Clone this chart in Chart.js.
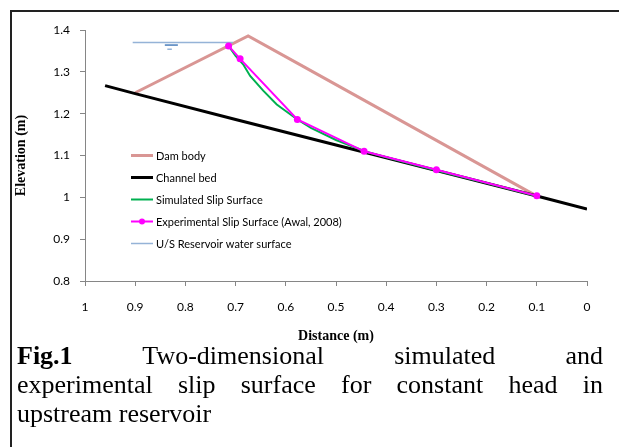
<!DOCTYPE html>
<html>
<head>
<meta charset="utf-8">
<script src="https://cdn.jsdelivr.net/npm/chart.js@4/dist/chart.umd.min.js"></script>
<style>
  html, body { margin:0; padding:0; background:#fff; }
  body { width:619px; height:447px; position:relative; overflow:hidden; }
  #frame { position:absolute; left:10px; top:10px; width:700px; height:600px; border:2px solid #222; box-sizing:border-box; }
  #c { position:absolute; left:0; top:0; }
  #cap { position:absolute; left:17px; top:341px; width:586px; font-family:'Liberation Serif','Times New Roman',serif; font-size:26px; line-height:29px; color:#000; }
  #cap .j { text-align:justify; text-align-last:justify; }
</style>
</head>
<body>
<div id="frame"></div>
<canvas id="c" width="619" height="345"></canvas>
<div id="cap">
  <div class="j"><b>Fig.1</b> Two-dimensional simulated and</div>
  <div class="j">experimental slip surface for constant head in</div>
  <div>upstream reservoir</div>
</div>
<script>
// ---- data ----
const damX = [0.9, 0.675, 0.57, 0.1];
const damY = [1.25, 1.386, 1.316, 1.003];

const bedX = [0.96, 0.9, 0.7, 0.5, 0.3, 0.1, 0];
const bedY = [1.267, 1.248, 1.186, 1.125, 1.064, 1.003, 0.972];

const simX = [0.714, 0.7, 0.685, 0.671, 0.645, 0.618, 0.577, 0.55, 0.5, 0.44, 0.4, 0.3, 0.2, 0.1];
const simY = [1.362, 1.338, 1.318, 1.29, 1.255, 1.222, 1.186, 1.166, 1.137, 1.109, 1.096, 1.064, 1.034, 1.003];

const expX = [0.714, 0.691, 0.577, 0.444, 0.3, 0.1];
const expY = [1.362, 1.331, 1.186, 1.11, 1.066, 1.004];

const waterX = [0.905, 0.705];
const waterY = [1.37, 1.37];

// water-level symbol (two short strokes under the water line)
const symAX = [0.841, 0.815];
const symAY = [1.364, 1.364];
const symBX = [0.836, 0.827];
const symBY = [1.354, 1.354];

const seriesNames = ['Dam body', 'Channel bed', 'Simulated Slip Surface', 'Experimental Slip Surface (Awal, 2008)', 'U/S Reservoir water surface'];

const xTicks = [1, 0.9, 0.8, 0.7, 0.6, 0.5, 0.4, 0.3, 0.2, 0.1, 0];
const yTicks = [0.8, 0.9, 1, 1.1, 1.2, 1.3, 1.4];

const pts = (xs, ys) => xs.map((x, i) => ({x: x, y: ys[i]}));

const datasets = [
  {label: seriesNames[0], data: pts(damX, damY), borderColor:'#D99694', borderWidth:3, pointRadius:0, order:6, inLegend:true},
  {label: seriesNames[1], data: pts(bedX, bedY), borderColor:'#000000', borderWidth:3, pointRadius:0, order:5, inLegend:true},
  {label: seriesNames[2], data: pts(simX, simY), borderColor:'#00B050', borderWidth:2, pointRadius:0, order:4, inLegend:true},
  {label: seriesNames[3], data: pts(expX, expY), borderColor:'#FF00FF', backgroundColor:'#FF00FF', borderWidth:2, pointRadius:3.5, pointBorderWidth:0, pointBackgroundColor:'#FF00FF', order:2, inLegend:true},
  {label: seriesNames[4], data: pts(waterX, waterY), borderColor:'#95B3D7', borderWidth:1.5, pointRadius:0, order:3, inLegend:true},
  {label: 'symA', data: pts(symAX, symAY), borderColor:'#4A7EBB', borderWidth:1.5, pointRadius:0, order:3, inLegend:false},
  {label: 'symB', data: pts(symBX, symBY), borderColor:'#95B3D7', borderWidth:1.5, pointRadius:0, order:3, inLegend:false}
];
datasets.forEach(d => { d.showLine = true; d.fill = false; d.tension = 0; });

const legendPlugin = {
  id: 'insideLegend',
  afterDraw(chart) {
    const ctx = chart.ctx;
    const items = chart.data.datasets.filter(d => d.inLegend);
    const x0 = 131, x1 = 153, tx = 156;
    let y = 155.5;
    ctx.save();
    ctx.font = '11px Lato, "Open Sans", sans-serif';
    ctx.textBaseline = 'middle';
    ctx.textAlign = 'left';
    items.forEach(d => {
      ctx.strokeStyle = d.borderColor;
      ctx.lineWidth = d.borderWidth;
      ctx.beginPath();
      ctx.moveTo(x0, y); ctx.lineTo(x1, y);
      ctx.stroke();
      if (d.pointRadius > 0) {
        ctx.fillStyle = d.pointBackgroundColor;
        ctx.beginPath();
        ctx.arc((x0 + x1) / 2, y, 3, 0, Math.PI * 2);
        ctx.fill();
      }
      ctx.fillStyle = '#000';
      ctx.fillText(d.label, tx, y + 0.5);
      y += 22;
    });
    ctx.restore();
  }
};

new Chart(document.getElementById('c'), {
  type: 'scatter',
  data: { datasets: datasets },
  options: {
    responsive: false,
    devicePixelRatio: 1,
    animation: false,
    layout: { padding: { left: 0, right: 32, top: 30, bottom: 0 } },
    plugins: { legend: { display: false }, tooltip: { enabled: false } },
    scales: {
      x: {
        type: 'linear', reverse: true, min: 0, max: 1,
        afterBuildTicks: s => { s.ticks = xTicks.map(v => ({value: v})); },
        afterFit: s => { s.height = 64; },
        ticks: { font: { family: 'Lato', size: 12 }, color: '#000', padding: 14, maxRotation: 0,
                 callback: v => String(Number(v.toFixed(1))) },
        grid: { drawOnChartArea: false, drawTicks: true, tickLength: 5, color: '#868686' },
        border: { color: '#868686', width: 1 },
        title: { display: true, text: 'Distance (m)', font: { family: 'Liberation Serif', size: 14, weight: 'bold' }, color: '#000', padding: { top: 0, bottom: 0 } }
      },
      y: {
        type: 'linear', min: 0.8, max: 1.4,
        afterBuildTicks: s => { s.ticks = yTicks.map(v => ({value: v})); },
        afterFit: s => { s.width = 85; },
        ticks: { font: { family: 'Lato', size: 12 }, color: '#000', padding: 10,
                 callback: v => String(Number(v.toFixed(1))) },
        grid: { drawOnChartArea: false, drawTicks: true, tickLength: 5, color: '#868686' },
        border: { color: '#868686', width: 1 },
        title: { display: true, text: 'Elevation (m)', font: { family: 'Liberation Serif', size: 14, weight: 'bold' }, color: '#000', padding: { top: 13, bottom: 0 } }
      }
    }
  },
  plugins: [legendPlugin]
});
</script>
</body>
</html>
